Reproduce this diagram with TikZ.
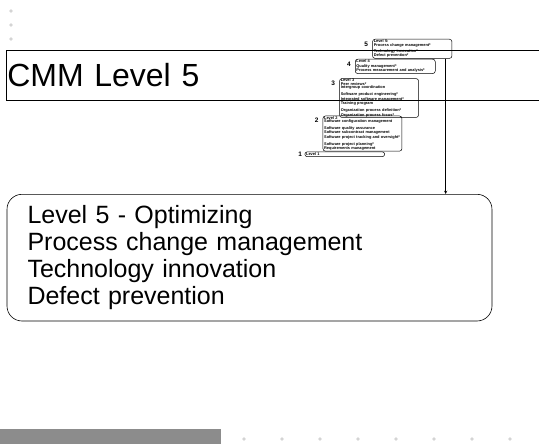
\documentclass[tikz,border=0pt]{standalone}
\usepackage{fontspec}
\setmainfont{Liberation Sans}
\usetikzlibrary{positioning}
\definecolor{dotgray}{RGB}{212,212,212}
\definecolor{bargray}{RGB}{140,140,140}
\tikzset{
  lvbox/.style={
    draw, rectangle, rounded corners=2.5pt, line width=0.5pt, anchor=north west,
    align=left, inner xsep=1.2pt, inner ysep=0.6pt, font=\fontsize{3.9}{3.5}\selectfont\bfseries
  },
  lvnum/.style={
    font=\fontsize{6.5}{7}\selectfont\bfseries, inner sep=0pt
  },
  lvtop/.style={
    anchor=north east, xshift=-4pt, yshift=-2.4pt
  },
  titlebox/.style={
    draw, rectangle, line width=0.6pt, anchor=north west, align=left, text width=535pt,
    minimum height=50pt, inner xsep=1pt, inner ysep=0pt, font=\fontsize{32}{34}\selectfont
  },
  mainbox/.style={
    draw, rectangle, rounded corners=15pt, line width=0.6pt, anchor=north west, align=left,
    text width=444pt, inner xsep=20.5pt, minimum height=126.7pt, font=\fontsize{25}{27}\selectfont
  }
}

\begin{document}
\begin{tikzpicture}[x=1pt, y=-1pt]
   \useasboundingbox (0,0) rectangle (539,444);

   \foreach \y in {11,25,39} \fill[dotgray] (11,\y) circle (1.8pt);
   \fill[bargray] (0,429) rectangle (221,444);
   \foreach \x in {244,282,...,510} \fill[dotgray] (\x,439) circle (1.8pt);

   \node[titlebox] (title) at (6,50) {CMM Level 5};

   \node[lvbox, text width=77pt, minimum height=17pt, label={[lvnum, lvtop]north west:5}] (l5) at (372.3,39)
     {Level 5:\\Process change management*\\[1.5pt]Technology innovation*\\Defect prevention*};
   \node[lvbox, text width=77.6pt, minimum height=14.3pt, label={[lvnum, lvtop]north west:4}] (l4) at (355,59)
     {Level 4\\[1pt]Quality management*\\Process measurement and analysis*};
   \node[lvbox, text width=76.6pt, minimum height=33.4pt, label={[lvnum, lvtop]north west:3}] (l3) at (339.3,78.3)
     {Level 3\\Peer reviews*\\Intergroup coordination\\[1.8pt]Software product engineering*\\Integrated software management*\\Training program\\[2pt]Organization process definition*\\Organization process focus*};
   \node[lvbox, text width=76.6pt, minimum height=31pt, label={[lvnum, lvtop]north west:2}] (l2) at (322.7,115.7)
     {Level 2\\Software configuration management\\[1.6pt]Software quality assurance\\Software subcontract management\\Software project tracking and oversight*\\[2pt]Software project planning*\\Requirements management};
   \node[lvbox, rounded corners=2pt, text width=77.2pt, minimum height=4.6pt, label={[lvnum, xshift=-2.5pt]west:1}] (l1) at (304.7,151.7)
     {Level 1};

   \node[mainbox] (summary) at (6.7,194)
     {Level 5 - Optimizing\\Process change management\\Technology innovation\\Defect prevention};

   \coordinate (ax) at (445.7,0);
   \draw[-stealth, line width=0.5pt] (l5.south -| ax) -- (summary.north -| ax);
\end{tikzpicture}
\end{document}
